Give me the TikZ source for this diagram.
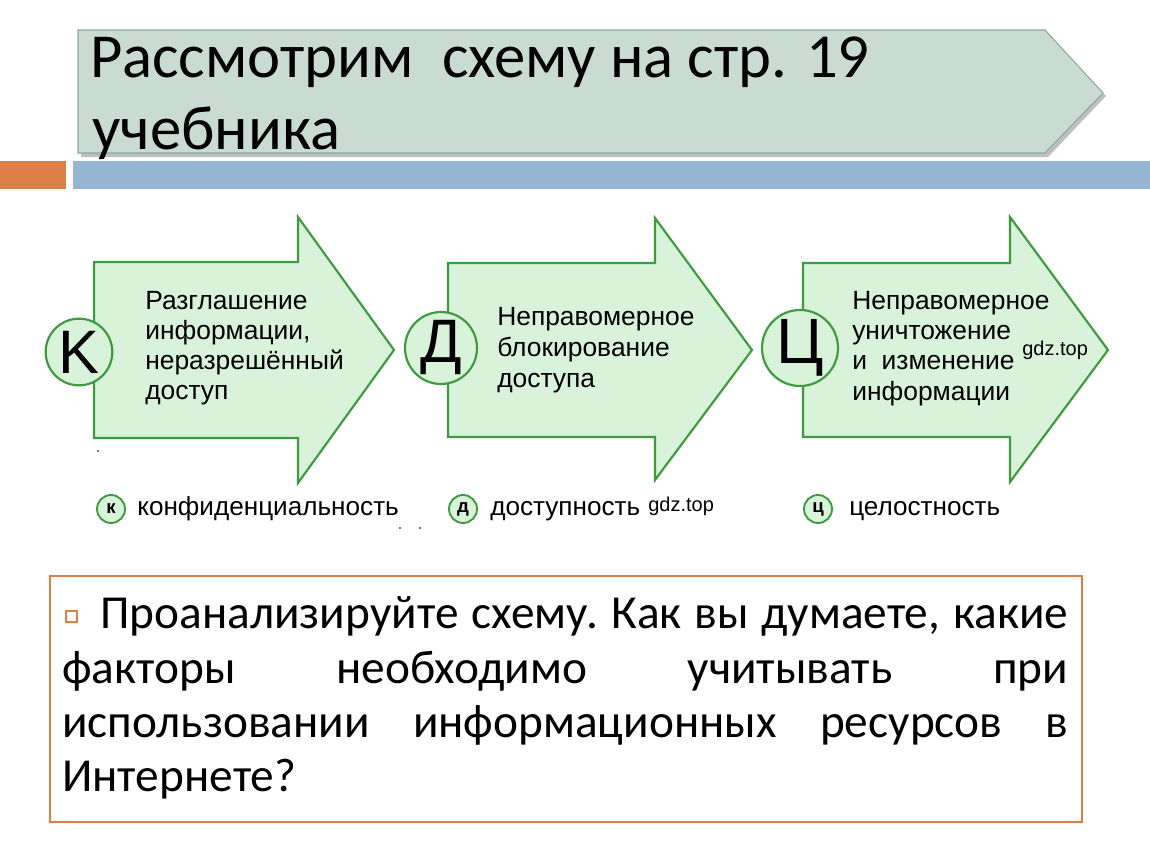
\documentclass[tikz,border=0pt]{standalone}
\usepackage{fontspec}
\setmainfont{Liberation Sans}
\newfontfamily\calf{Carlito}
\definecolor{titlefill}{HTML}{CADBD4}
\definecolor{titleedge}{HTML}{86AA9C}
\definecolor{orng}{HTML}{DD8047}
\definecolor{blu}{HTML}{94B6D2}
\definecolor{gfill}{HTML}{D9F2DA}
\definecolor{gedge}{HTML}{3E9A3E}
\tikzset{
  arrowshape/.style={fill=gfill, draw=gedge, line width=1.6pt, line join=miter},
  bigcirc/.style={circle, fill=gfill, draw=gedge, line width=1.6pt, inner sep=0pt},
  smallcirc/.style={circle, fill=gfill, draw=gedge, line width=1.4pt, inner sep=0pt, minimum size=21pt, font=\fontsize{14}{14}\selectfont\bfseries},
  arrtext/.style={anchor=base west, inner sep=0pt, font=\fontsize{19.8}{23}\selectfont},
  legtext/.style={anchor=base west, inner sep=0pt, font=\fontsize{19.6}{23}\selectfont},
  gdz/.style={anchor=base west, inner sep=0pt, font=\fontsize{15}{15}\selectfont},
  titletext/.style={anchor=base west, inner sep=0pt, font=\calf\fontsize{47}{54}\selectfont},
  bodytext/.style={anchor=base west, inner sep=0pt, font=\calf\fontsize{35.5}{41}\selectfont}
}
\begin{document}
\begin{tikzpicture}[x=0.75pt,y=-0.75pt]
\useasboundingbox (0,0) rectangle (1150,864);
% title banner
\fill[black!25] (81,34) -- (1048,34) -- (1106,96) -- (1048,157) -- (81,157) -- cycle;
\path[fill=titlefill, draw=titleedge, line width=0.8pt] (78,30) -- (1045,30) -- (1103,93) -- (1045,153) -- (78,153) -- cycle;
\node[titletext] (t1) at (90,77) {Рассмотрим \ схему на стр. 19};
\node[titletext] (t2) at (92,149) {учебника};
% bars
\fill[orng] (0,161) rectangle (66,189);
\fill[blu] (73,161) rectangle (1150,189);
% arrow 1
\path[arrowshape] (94,262) -- (298,262) -- (298,217) -- (394,350) -- (298,483) -- (298,438) -- (94,438) -- cycle;
\node[bigcirc, minimum size=50pt, font=\fontsize{46}{46}\selectfont] (k) at (79,352) {K};
\node[arrtext] (a11) at (145,309) {Разглашение};
\node[arrtext] (a12) at (145,339) {информации,};
\node[arrtext] (a13) at (145,369) {неразрешённый};
\node[arrtext] (a14) at (145,399) {доступ};
% arrow 2
\path[arrowshape] (448,263) -- (655,263) -- (655,218) -- (752,350) -- (655,480) -- (655,437) -- (448,437) -- cycle;
\node[bigcirc, minimum size=54pt, font=\fontsize{46}{46}\selectfont] (d) at (441,348) {Д};
\node[arrtext] (a21) at (497,325) {Неправомерное};
\node[arrtext] (a22) at (497,356) {блокирование};
\node[arrtext] (a23) at (497,387) {доступа};
% arrow 3
\path[arrowshape] (803,263) -- (1010,263) -- (1010,217) -- (1108,350) -- (1010,482) -- (1010,437) -- (803,437) -- cycle;
\node[bigcirc, minimum size=57pt, font=\fontsize{48}{48}\selectfont] (c) at (800,348) {Ц};
\node[arrtext] (a31) at (852,309) {Неправомерное};
\node[arrtext] (a32) at (852,339) {уничтожение};
\node[arrtext] (a33) at (852,369) {и\ \ изменение};
\node[arrtext] (a34) at (852,400) {информации};
\node[gdz] (g1) at (1022,355) {gdz.top};
% legend
\node[smallcirc] (lk) at (111,509) {к};
\node[legtext] (l1) at (137,515) {конфиденциальность};
\node[smallcirc] (ld) at (463,509) {д};
\node[legtext] (l2) at (490,515) {доступность};
\node[gdz] (g2) at (648,511) {gdz.top};
\node[smallcirc] (lc) at (818,509) {ц};
\node[legtext] (l3) at (849,515) {целостность};
% specks
\fill[black!70] (98,451) circle (1.2);
\fill[black!70] (400,528) circle (1.2);
\fill[black!70] (420,528) circle (1.2);
% question box
\draw[orng, line width=1.5pt] (50,576) rectangle (1082,822);
\draw[orng, line width=1.2pt] (66,611) rectangle (77,622);
\node[bodytext] (q1) at (100,628) {\hbox to 726pt{Проанализируйте\hfill схему.\hfill Как\hfill вы\hfill думаете,\hfill какие}};
\node[bodytext] (q2) at (62,683) {\hbox to 754.5pt{факторы\hfill необходимо\hfill учитывать\hfill при}};
\node[bodytext] (q3) at (62,737) {\hbox to 754.5pt{использовании\hfill информационных\hfill ресурсов\hfill в}};
\node[bodytext] (q4) at (62,791) {Интернете?};
\end{tikzpicture}
\end{document}
